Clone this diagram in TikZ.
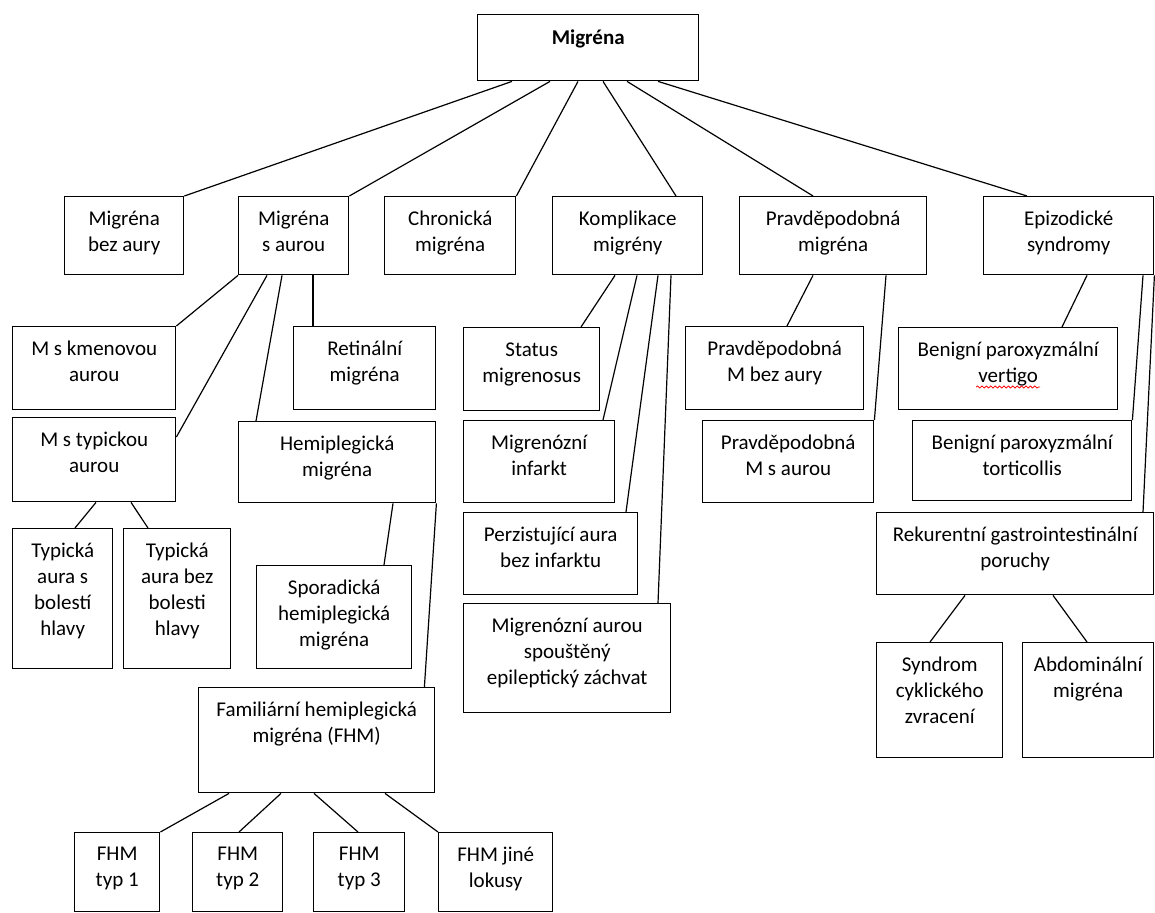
\documentclass[tikz,border=0pt]{standalone}
\usepackage{fontspec}
\setmainfont{Carlito}
\usetikzlibrary{calc,decorations.pathmorphing}

\tikzset{
  box/.style={draw, line width=0.7pt, anchor=north west, inner sep=0pt},
  boxsize/.style 2 args={minimum width=#1*0.5pt, minimum height=#2*0.5pt},
  boxtext/.style={anchor=north, align=center, inner sep=0pt, yshift=-7.5pt,
    font=\fontsize{10.5}{13}\selectfont},
  link/.style={line width=0.6pt},
}

\begin{document}
\begin{tikzpicture}[x=0.5pt, y=-0.5pt]
    \useasboundingbox (0,0) rectangle (1155,913);

    % Root
    \node[box, boxsize={221}{66}, label={[boxtext]north:\textbf{Migréna}}] (root) at (477,14) {};

    % First level
    \node[box, boxsize={119}{78}, label={[boxtext]north:Migréna\\bez aury}] (bezaury) at (64,196) {};
    \node[box, boxsize={110}{78}, label={[boxtext]north:Migréna\\s aurou}] (saurou) at (238,196) {};
    \node[box, boxsize={131}{78}, label={[boxtext]north:Chronická\\migréna}] (chron) at (384,196) {};
    \node[box, boxsize={150}{78}, label={[boxtext]north:Komplikace\\migrény}] (kompl) at (552,196) {};
    \node[box, boxsize={187}{78}, label={[boxtext]north:Pravděpodobná\\migréna}] (pravd) at (739,196) {};
    \node[box, boxsize={170}{78}, label={[boxtext]north:Epizodické\\syndromy}] (epiz) at (983,196) {};

    % Migréna s aurou
    \node[box, boxsize={163}{83}, label={[boxtext]north:M s kmenovou\\aurou}] (kmen) at (12,326) {};
    \node[box, boxsize={163}{84}, label={[boxtext]north:M s typickou\\aurou}] (typick) at (12,417) {};
    \node[box, boxsize={142}{83}, label={[boxtext]north:Retinální\\migréna}] (retin) at (293,326) {};
    \node[box, boxsize={197}{81}, label={[boxtext]north:Hemiplegická\\migréna}] (hemi) at (238,421) {};
    \node[box, boxsize={100}{140}, label={[boxtext]north:Typická\\aura s\\bolestí\\hlavy}] (tyas) at (12,528) {};
    \node[box, boxsize={107}{140}, label={[boxtext]north:Typická\\aura bez\\bolesti\\hlavy}] (tyab) at (123,528) {};
    \node[box, boxsize={155}{103}, label={[boxtext]north:Sporadická\\hemiplegická\\migréna}] (spor) at (256,565) {};
    \node[box, boxsize={236}{105}, label={[boxtext]north:Familiární hemiplegická\\migréna (FHM)}] (fam) at (198,687) {};
    \node[box, boxsize={85}{79}, label={[boxtext]north:FHM\\typ 1}] (fhma) at (74,832) {};
    \node[box, boxsize={90}{79}, label={[boxtext]north:FHM\\typ 2}] (fhmb) at (192,832) {};
    \node[box, boxsize={91}{79}, label={[boxtext]north:FHM\\typ 3}] (fhmc) at (313,832) {};
    \node[box, boxsize={114}{79}, label={[boxtext]north:FHM jiné\\lokusy}] (fhmx) at (438,832) {};

    % Komplikace
    \node[box, boxsize={136}{83}, label={[boxtext]north:Status\\migrenosus}] (status) at (463,327) {};
    \node[box, boxsize={151}{82}, label={[boxtext]north:Migrenózní\\infarkt}] (infarkt) at (463,420) {};
    \node[box, boxsize={174}{82}, label={[boxtext]north:Perzistující aura\\bez infarktu}] (perz) at (463,512) {};
    \node[box, boxsize={207}{109}, label={[boxtext]north:Migrenózní aurou\\spouštěný\\epileptický záchvat}] (epilep) at (463,603) {};

    % Pravdepodobna
    \node[box, boxsize={178}{83}, label={[boxtext]north:Pravděpodobná\\M bez aury}] (pmbez) at (685,326) {};
    \node[box, boxsize={171}{82}, label={[boxtext]north:Pravděpodobná\\M s aurou}] (pmsa) at (702,420) {};

    % Epizodicke syndromy
    \node[box, boxsize={219}{82}, label={[boxtext]north:Benigní paroxyzmální\\vertigo}] (vert) at (898,327) {};
    \node[box, boxsize={219}{80}, label={[boxtext]north:Benigní paroxyzmální\\torticollis}] (tort) at (912,420) {};
    \node[box, boxsize={277}{82}, label={[boxtext]north:Rekurentní gastrointestinální\\poruchy}] (rek) at (876,512) {};
    \node[box, boxsize={126}{115}, label={[boxtext]north:Syndrom\\cyklického\\zvracení}] (cykl) at (876,642) {};
    \node[box, boxsize={131}{115}, label={[boxtext]north:Abdominální\\migréna}] (abd) at (1022,642) {};

    % spell check underline
    \draw[red, line width=0.4pt, decorate, decoration={snake, amplitude=0.5pt, segment length=2.2pt}]
        ($(vert.north)+(-32,60)$) -- ($(vert.north)+(32,60)$);

    % Links from root
    \draw[link] ($(root.south west)+(35,0)$) -- (bezaury.north east);
    \draw[link] ($(root.south west)+(73,0)$) -- (saurou.north east);
    \draw[link] ($(root.south west)+(101,0)$) -- (chron.north east);
    \draw[link] ($(root.south west)+(126,0)$) -- ($(kompl.north west)+(124,0)$);
    \draw[link] ($(root.south west)+(150,0)$) -- ($(pravd.north west)+(74,0)$);
    \draw[link] ($(root.south west)+(181,0)$) -- ($(epiz.north west)+(44,0)$);

    % Links from Migréna s aurou
    \draw[link] (saurou.south west) -- (kmen.north east);
    \draw[link] ($(saurou.south west)+(29,0)$) -- ($(typick.north east)+(0,20)$);
    \draw[link] ($(saurou.south west)+(44,0)$) -- ($(hemi.north west)+(18,0)$);
    \draw[link] ($(saurou.south west)+(75,0)$) -- ($(retin.north west)+(20,0)$);
    \draw[link] ($(typick.south west)+(84,0)$) -- ($(tyas.north west)+(63,0)$);
    \draw[link] ($(typick.south west)+(119,0)$) -- ($(tyab.north west)+(25,0)$);
    \draw[link] ($(hemi.south west)+(155,0)$) -- ($(spor.north west)+(128,0)$);
    \draw[link] (hemi.south east) -- ($(fam.north east)+(-11,0)$);
    \draw[link] ($(fam.south west)+(31,0)$) -- (fhma.north east);
    \draw[link] ($(fam.south west)+(83,0)$) -- ($(fhmb.north west)+(47,0)$);
    \draw[link] ($(fam.south west)+(116,0)$) -- ($(fhmc.north west)+(45,0)$);
    \draw[link] ($(fam.south west)+(187,0)$) -- (fhmx.north west);

    % Links from Komplikace
    \draw[link] ($(kompl.south west)+(63,0)$) -- ($(status.north west)+(118,0)$);
    \draw[link] ($(kompl.south west)+(85,0)$) -- ($(infarkt.north west)+(140,0)$);
    \draw[link] ($(kompl.south west)+(106,0)$) -- ($(perz.north west)+(163,0)$);
    \draw[link] ($(kompl.south west)+(119,0)$) -- ($(epilep.north west)+(195,0)$);

    % Links from Pravdepodobna
    \draw[link] ($(pravd.south west)+(74,0)$) -- ($(pmbez.north west)+(102,0)$);
    \draw[link] ($(pravd.south west)+(147,0)$) -- (pmsa.north east);

    % Links from Epizodicke
    \draw[link] ($(epiz.south west)+(104,0)$) -- ($(vert.north west)+(164,0)$);
    \draw[link] ($(epiz.south west)+(160,0)$) -- (tort.north east);
    \draw[link] (epiz.south east) -- ($(rek.north west)+(267,0)$);
    \draw[link] ($(rek.south west)+(89,0)$) -- ($(cykl.north west)+(54,0)$);
    \draw[link] ($(rek.south west)+(177,0)$) -- ($(abd.north west)+(65,0)$);
\end{tikzpicture}
\end{document}
